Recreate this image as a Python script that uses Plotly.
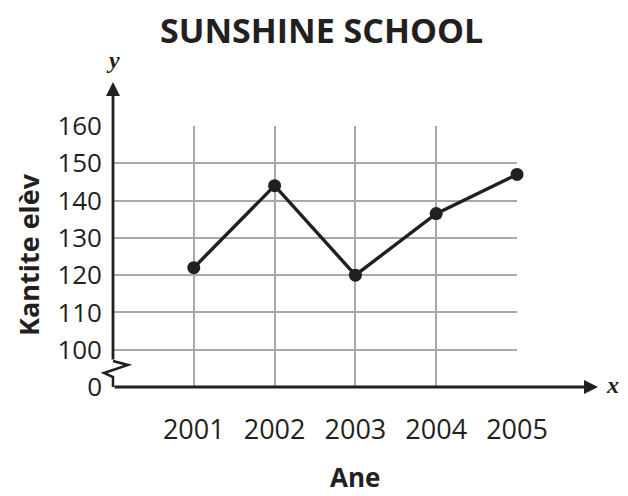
"""Sunshine School: number of students per year."""

import plotly.graph_objects as go

years = [2001, 2002, 2003, 2004, 2005]
students = [122, 144, 120, 136.5, 147]

y_tickvals = [90, 100, 110, 120, 130, 140, 150, 160]
y_ticktext = ["0", "100", "110", "120", "130", "140", "150", "160"]

INK = "#231f20"
GRID = "#a7a9ac"
FONT = "Open Sans"
SERIF = "Liberation Serif"

# the page body adds an 8px margin, so the figure is drawn 8px in
OFF = 8
W, H = 628 - OFF, 496 - OFF
# plot area in screen pixels
L, R, T, B = 113, 517, 126, 387


def px(x):
    return (x - L) / (R - L)


def py(y):
    return (B - y) / (B - T)


fig = go.Figure()
fig.add_scatter(
    x=years,
    y=students,
    mode="lines+markers",
    line=dict(color=INK, width=3.4),
    marker=dict(color=INK, size=13),
    cliponaxis=False,
    showlegend=False,
)

fig.update_xaxes(
    range=[2000, 2005],
    tickvals=years,
    showgrid=True,
    gridcolor=GRID,
    gridwidth=1.5,
    zeroline=False,
    showline=False,
    ticks="",
    ticklabelstandoff=24,
    tickfont=dict(family=FONT, size=27, color=INK),
)
fig.update_yaxes(
    range=[90, 160],
    tickvals=y_tickvals,
    ticktext=y_ticktext,
    showgrid=True,
    gridcolor=GRID,
    gridwidth=1.5,
    zeroline=False,
    showline=False,
    ticks="",
    ticklabelstandoff=10,
    tickfont=dict(family=FONT, size=26, color=INK),
)

# broken y axis: zigzag and lower stub
fig.add_shape(
    type="path",
    xref="paper",
    yref="paper",
    path=(
        f"M {px(113)},{py(361)} L {px(128)},{py(365)} L {px(104)},{py(373)} "
        f"L {px(113)},{py(377)} L {px(113)},{py(387)}"
    ),
    line=dict(color=INK, width=2.5),
)

annotations = [
    # x axis arrow
    dict(x=px(598), y=py(387), ax=-485, ay=0),
    # y axis arrow (upper part)
    dict(x=0, y=py(82), ax=0, ay=279),
]
for a in annotations:
    fig.add_annotation(
        xref="paper", yref="paper", text="", showarrow=True,
        arrowhead=2, arrowsize=1.0, arrowwidth=2.8, arrowcolor=INK,
        standoff=0, startstandoff=0, **a,
    )

labels = [
    dict(x=321, y=30, text="<b>SUNSHINE SCHOOL</b>", size=34, family=FONT, angle=0),
    dict(x=355, y=477, text="<b>Ane</b>", size=26, family=FONT, angle=0),
    dict(x=28, y=255, text="<b>Kantite elèv</b>", size=27, family=FONT, angle=-90),
    dict(x=113, y=60, text="<b><i>y</i></b>", size=24, family=SERIF, angle=0),
    dict(x=612, y=385, text="<b><i>x</i></b>", size=24, family=SERIF, angle=0),
]
for lab in labels:
    fig.add_annotation(
        x=px(lab["x"]), y=py(lab["y"]), xref="paper", yref="paper",
        xanchor="center", yanchor="middle", showarrow=False,
        text=lab["text"], textangle=lab["angle"],
        font=dict(family=lab["family"], size=lab["size"], color=INK),
    )

fig.update_layout(
    width=W,
    height=H,
    margin=dict(l=L - OFF, r=628 - R, t=T - OFF, b=496 - B, pad=0),
    paper_bgcolor="white",
    plot_bgcolor="white",
    showlegend=False,
)

fig.write_html("out.html")
